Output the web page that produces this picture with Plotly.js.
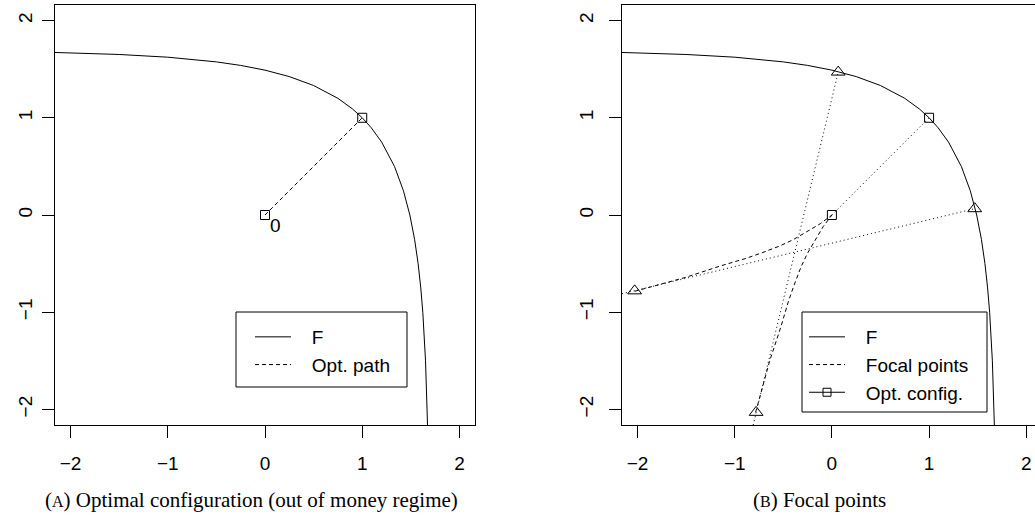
<!DOCTYPE html>
<html>
<head>
<meta charset="utf-8">
<script src="https://cdn.plot.ly/plotly-3.0.1.min.js"></script>
<style>
  html, body { margin: 0; padding: 0; background: #fff; }
  #plot { width: 1035px; height: 517px; }
</style>
</head>
<body>
<div id="plot"></div>
<script>
// frontier F (same curve in both panels)
var fX = [-2.16, -1.5, -1.0, -0.75, -0.5, -0.25, 0, 0.25, 0.5, 0.75, 0.9, 1.0,
          1.0909, 1.1999, 1.3318, 1.4237, 1.4899, 1.5386, 1.5749, 1.6022, 1.6231, 1.6512, 1.6717];
var fY = [1.6717, 1.6512, 1.6231, 1.6022, 1.5749, 1.5386, 1.4899, 1.4237, 1.3318, 1.1999, 1.0909, 1.0,
          0.9, 0.75, 0.5, 0.25, 0, -0.25, -0.5, -0.75, -1.0, -1.5, -2.16];

// (A) optimal path from the origin
var pathX = [0, 1];
var pathY = [0, 1];
var originLabel = '0';

// (B) optimal configuration and focal points
var optX = [0, 1];
var optY = [0, 1];
var focalX = [0.065, 1.47, -2.03, -0.78];
var focalY = [1.47, 0.065, -0.78, -2.03];

// dashed focal curves, null separates the two branches
var focalCurveX = [-2.03, -1.5, -1.15, -0.88, -0.71, -0.54, -0.40, -0.26, -0.12, 0, null,
                   -0.785, -0.64, -0.525, -0.445, -0.385, -0.32, -0.255, -0.175, -0.09, 0];
var focalCurveY = [-0.785, -0.64, -0.525, -0.445, -0.385, -0.32, -0.255, -0.175, -0.09, 0, null,
                   -2.03, -1.5, -1.15, -0.88, -0.71, -0.54, -0.40, -0.26, -0.12, 0];

// dotted rays
var rayX = [-2.16, 1.47, null, -0.81, 0.065, null, 0, 1];
var rayY = [-0.81, 0.065, null, -2.16, 1.47, null, 0, 1];

var tickVals = [-2, -1, 0, 1, 2];

var sans = 'Liberation Sans, Arial, Helvetica, sans-serif';
var serif = 'Liberation Serif, Times New Roman, serif';
var pad = '\u00a0\u00a0\u00a0';  // R leaves a wider gap between sample and label

var traces = [
  {x: fX, y: fY, mode: 'lines', name: pad + 'F', xaxis: 'x', yaxis: 'y',
   line: {color: 'black', width: 1}, legend: 'legend'},
  {x: pathX, y: pathY, mode: 'lines', name: pad + 'Opt. path', xaxis: 'x', yaxis: 'y',
   line: {color: 'black', width: 1, dash: '4px,3px'}, legend: 'legend'},
  {x: pathX, y: pathY, mode: 'markers', showlegend: false, xaxis: 'x', yaxis: 'y',
   marker: {symbol: 'square-open', size: 9, color: 'black', line: {width: 1, color: 'black'}}},

  {x: fX, y: fY, mode: 'lines', name: pad + 'F', xaxis: 'x2', yaxis: 'y2',
   line: {color: 'black', width: 1}, legend: 'legend2'},
  {x: focalCurveX, y: focalCurveY, mode: 'lines', name: pad + 'Focal points', xaxis: 'x2', yaxis: 'y2',
   line: {color: 'black', width: 1, dash: '4px,3px'}, legend: 'legend2'},
  {x: [null], y: [null], mode: 'lines+markers', name: pad + 'Opt. config.', xaxis: 'x2', yaxis: 'y2',
   line: {color: 'black', width: 1},
   marker: {symbol: 'square-open', size: 8, color: 'black', line: {width: 1, color: 'black'}},
   legend: 'legend2'},
  {x: rayX, y: rayY, mode: 'lines', showlegend: false, xaxis: 'x2', yaxis: 'y2',
   line: {color: 'black', width: 1, dash: '1px,3px'}},
  {x: optX, y: optY, mode: 'markers', showlegend: false, xaxis: 'x2', yaxis: 'y2',
   marker: {symbol: 'square-open', size: 9, color: 'black', line: {width: 1, color: 'black'}}},
  {x: focalX, y: focalY, mode: 'markers', showlegend: false, xaxis: 'x2', yaxis: 'y2',
   marker: {symbol: 'triangle-up-open', size: 12, color: 'black', line: {width: 1, color: 'black'}}}
];

function axis(extra) {
  var a = {
    showgrid: false, zeroline: false, showline: true, linecolor: 'black', linewidth: 1,
    ticks: 'outside', ticklen: 12, tickwidth: 1, tickcolor: 'black',
    tickmode: 'array', tickvals: tickVals, ticktext: tickVals.map(function (v) {
      return v < 0 ? '\u2212' + Math.abs(v) : String(v);
    }),
    tickfont: {family: sans, size: 19, color: 'black'},
    fixedrange: true
  };
  for (var k in extra) a[k] = extra[k];
  return a;
}

var yDom = [92 / 517, 512 / 517];

var legendFont = {family: sans, size: 19, color: 'black'};

var layout = {
  width: 1035, height: 517,
  margin: {l: 0, r: 0, t: 0, b: 0},
  paper_bgcolor: 'white', plot_bgcolor: 'white',
  xaxis: axis({domain: [55 / 1035, 475 / 1035], range: [-2.16, 2.16], mirror: true, anchor: 'y', ticklabelstandoff: 9}),
  yaxis: axis({domain: yDom, range: [-2.16, 2.16], mirror: true, anchor: 'x', tickangle: -90, ticklabelstandoff: 2}),
  xaxis2: axis({domain: [622 / 1035, 1], range: [-2.16, 2.09], mirror: true, anchor: 'y2', ticklabelstandoff: 9}),
  yaxis2: axis({domain: yDom, range: [-2.16, 2.16], mirror: false, anchor: 'x2', tickangle: -90, ticklabelstandoff: 8}),
  legend: {x: 250 / 1035, y: 1 - 318 / 517, xanchor: 'left', yanchor: 'top',
           bgcolor: 'rgba(0,0,0,0)', borderwidth: 0, font: legendFont, itemwidth: 36,
           tracegroupgap: 0},
  legend2: {x: 804 / 1035, y: 1 - 318 / 517, xanchor: 'left', yanchor: 'top',
            bgcolor: 'rgba(0,0,0,0)', borderwidth: 0, font: legendFont, itemwidth: 36,
            tracegroupgap: 0},
  shapes: [
    {type: 'rect', xref: 'paper', yref: 'paper', x0: 236 / 1035, x1: 407 / 1035,
     y0: 1 - 387 / 517, y1: 1 - 312 / 517, line: {color: 'black', width: 1}},
    {type: 'rect', xref: 'paper', yref: 'paper', x0: 802 / 1035, x1: 987 / 1035,
     y0: 1 - 412 / 517, y1: 1 - 312 / 517, line: {color: 'black', width: 1}}
  ],
  annotations: [
    {x: 0.103, y: -0.106, xref: 'x', yref: 'y', text: originLabel, showarrow: false,
     font: {family: sans, size: 19, color: 'black'}},
    {x: 251 / 1035, y: 1 - 500 / 517, xref: 'paper', yref: 'paper', showarrow: false,
     xanchor: 'center', yanchor: 'middle',
     text: '(<span style="font-size:16px">A</span>) Optimal configuration (out of money regime)',
     font: {family: serif, size: 21, color: 'black'}},
    {x: 819 / 1035, y: 1 - 500 / 517, xref: 'paper', yref: 'paper', showarrow: false,
     xanchor: 'center', yanchor: 'middle',
     text: '(<span style="font-size:16px">B</span>) Focal points',
     font: {family: serif, size: 21, color: 'black'}}
  ]
};

Plotly.newPlot('plot', traces, layout, {staticPlot: true, displayModeBar: false});
</script>
</body>
</html>
